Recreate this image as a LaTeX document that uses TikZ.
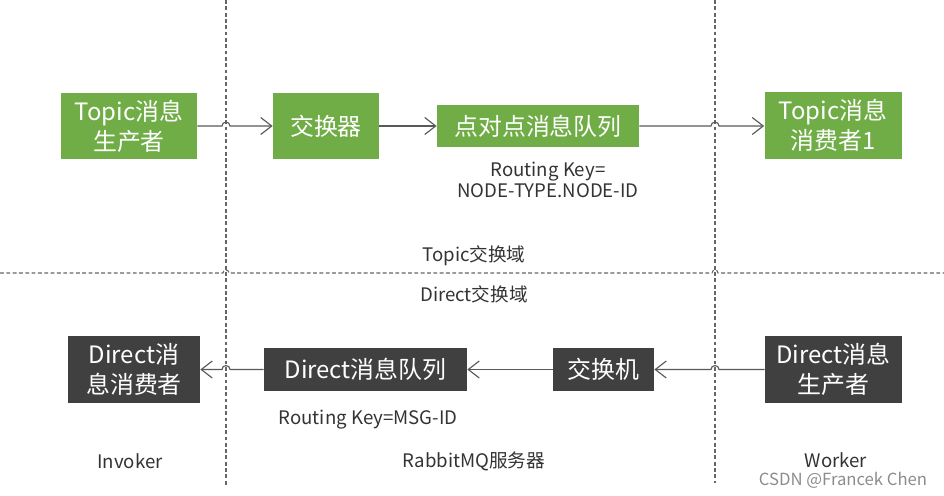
\documentclass[tikz,border=0pt]{standalone}
\usepackage{fontspec}
\setmainfont{Noto Sans CJK SC}
\usepackage{xcolor}
\usetikzlibrary{arrows.meta}
\definecolor{topicgreen}{HTML}{70AD47}
\definecolor{directgray}{HTML}{404040}
\definecolor{linegray}{HTML}{595959}

\begin{document}
\begin{tikzpicture}[
      >={Straight Barb[length=2.2mm,width=3.4mm]},
      verde/.style={fill=topicgreen, text=white, align=center, inner sep=1pt,
                    font=\fontsize{13.6}{17}\selectfont},
      escuro/.style={verde, fill=directgray},
      rotulo/.style={text=black!80, align=center, font=\fontsize{10.6}{12}\selectfont},
      seta/.style={->, linegray, line width=0.65pt},
      divisa/.style={black!60, line width=0.6pt, dash pattern=on 2.2pt off 1.4pt}
  ]
      \useasboundingbox (0,0) rectangle (18.88,-9.9);

      % Linhas divisórias
      \coordinate (v1) at (4.52,0);
      \coordinate (v1b) at (4.52,-9.74);
      \coordinate (v2) at (14.30,0);
      \coordinate (v2b) at (14.30,-9.66);
      \coordinate (h0) at (0,-5.46);
      \coordinate (h1) at (18.88,-5.46);
      \draw[divisa] (v1) -- (v1b);
      \draw[divisa] (v2) -- (v2b);
      \draw[divisa] (h0) -- ([xshift=-0.06cm]h0 -| v1) arc[start angle=180, end angle=0, radius=0.06cm]
                    -- ([xshift=-0.06cm]h0 -| v2) arc[start angle=180, end angle=0, radius=0.06cm] -- (h1);

      % Topic
      \node[verde, minimum width=2.72cm, minimum height=1.32cm] (tp)  at (2.58,-2.52)  {Topic消息\\生产者};
      \node[verde, minimum width=2.12cm, minimum height=1.32cm] (jhq) at (6.52,-2.52)  {交换器};
      \node[verde, minimum width=4.04cm, minimum height=0.84cm] (dq)  at (10.76,-2.52) {点对点消息队列};
      \node[verde, minimum width=2.74cm, minimum height=1.34cm] (tc)  at (16.66,-2.5)  {Topic消息\\消费者1};

      \draw[seta] (tp.east) -- ([xshift=-0.08cm]tp.east -| v1)
                  arc[start angle=180, end angle=0, radius=0.08cm] -- (jhq.west);
      \draw[seta] (jhq.east) -- (dq.west);
      \draw[seta] (dq.east) -- ([xshift=-0.08cm]dq.east -| v2)
                  arc[start angle=180, end angle=0, radius=0.08cm] -- (tc.west |- dq.east);

      \node[rotulo] (rk1) at (10.96,-3.6) {Routing Key=\\NODE-TYPE.NODE-ID};
      \node[rotulo] (td)  at (9.48,-5.12) {Topic交换域};
      \node[rotulo] (dd)  at (9.48,-5.88) {Direct交换域};

      % Direct
      \node[escuro, minimum width=2.64cm, minimum height=1.34cm] (dc)  at (2.68,-7.39)  {Direct消\\息消费者};
      \node[escuro, minimum width=4.06cm, minimum height=0.86cm] (ddq) at (7.31,-7.39)  {Direct消息队列};
      \node[escuro, minimum width=2.02cm, minimum height=0.86cm] (jhj) at (12.07,-7.39) {交换机};
      \node[escuro, minimum width=2.74cm, minimum height=1.34cm] (dp)  at (16.67,-7.39) {Direct消息\\生产者};

      \draw[seta] (dp.west) -- ([xshift=0.08cm]dp.west -| v2)
                  arc[start angle=0, end angle=180, radius=0.08cm] -- (jhj.east);
      \draw[seta] (jhj.west) -- (ddq.east);
      \draw[seta] (ddq.west) -- ([xshift=0.08cm]ddq.west -| v1)
                  arc[start angle=0, end angle=180, radius=0.08cm] -- (dc.east);

      \node[rotulo] (rk2) at (7.36,-8.4) {Routing Key=MSG-ID};

      % Papéis
      \node[rotulo] (inv) at (2.6,-9.22)  {Invoker};
      \node[rotulo] (rmq) at (9.48,-9.22) {RabbitMQ服务器};
      \node[rotulo] (wk)  at (16.72,-9.2) {Worker};
      \node[text=black!45, font=\fontsize{9.5}{11}\selectfont, inner sep=1pt] (wm) at (16.86,-9.6) {CSDN @Francek Chen};
  \end{tikzpicture}
\end{document}
